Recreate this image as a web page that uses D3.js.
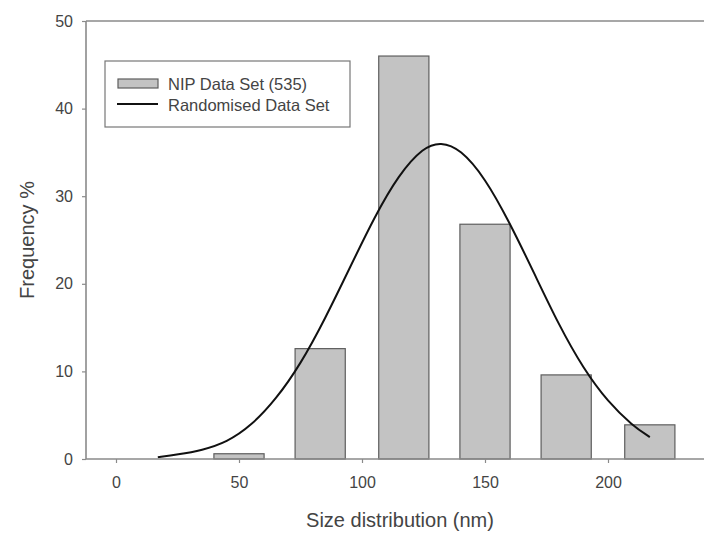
<!DOCTYPE html>
<html>
<head>
<meta charset="utf-8">
<script src="https://cdn.jsdelivr.net/npm/d3@7"></script>
<style>
  body { margin: 0; background: #fff; }
  text { font-family: "Liberation Sans", Arial, sans-serif; fill: #444; }
</style>
</head>
<body>
<div id="chart-area"></div>
<script>
// histogram bins (nm) and frequency %
var binCenters = [50, 83, 117, 150, 183, 217];
var binFreq = [0.6, 12.6, 46.0, 26.8, 9.6, 3.9];

// randomised data set curve
var curveX = [17, 25, 35, 45, 55, 65, 75, 85, 95, 105, 115, 125, 132, 140, 150, 160, 170, 180, 190, 200, 210, 217];
var curveY = [0.2, 0.5, 1.0, 1.9, 3.8, 6.8, 10.8, 16.0, 21.8, 27.6, 32.5, 35.6, 36.2, 35.4, 32.1, 27.0, 21.2, 15.3, 10.3, 6.5, 3.8, 2.5];

var xTicks = [0, 50, 100, 150, 200];
var yTicks = [0, 10, 20, 30, 40, 50];
var legendLabels = ["NIP Data Set (535)", "Randomised Data Set"];

var width = 704, height = 535;
var barW = 20.4; // nm

var svg = d3.select("#chart-area").append("svg")
  .attr("width", width)
  .attr("height", height);

var x = d3.scaleLinear().domain([0, 200]).range([116, 608]);
var y = d3.scaleLinear().domain([0, 50]).range([459, 21]);

var axisColor = "#8a8a8a";

// frame lines (right edge is cut off)
svg.append("line").attr("x1", 86).attr("x2", width).attr("y1", y(50)).attr("y2", y(50))
  .attr("stroke", axisColor).attr("stroke-width", 1.6);

// bars
svg.selectAll("rect.bar")
  .data(binCenters)
  .enter()
  .append("rect")
  .attr("class", "bar")
  .attr("x", (d) => { return x(d - barW / 2); })
  .attr("width", (d) => { return x(barW) - x(0); })
  .attr("y", (d, i) => { return y(binFreq[i]); })
  .attr("height", (d, i) => { return y(0) - y(binFreq[i]); })
  .attr("fill", "#c3c3c3")
  .attr("stroke", "#5e5e5e")
  .attr("stroke-width", 1.2);

// curve
var line = d3.line()
  .x((d) => { return x(d[0]); })
  .y((d) => { return y(d[1]); })
  .curve(d3.curveBasis);
svg.append("path")
  .datum(curveX.map((d, i) => { return [d, curveY[i]]; }))
  .attr("d", line)
  .attr("fill", "none")
  .attr("stroke", "#111")
  .attr("stroke-width", 2);

// axes
var xAxis = svg.append("g")
  .attr("transform", "translate(0," + y(0) + ")")
  .call(d3.axisBottom(x).tickValues(xTicks).tickSize(4).tickPadding(14));
xAxis.select(".domain").remove();
xAxis.selectAll(".tick line").attr("stroke", axisColor).attr("stroke-width", 1.2);
xAxis.selectAll("text").style("font-size", "16px").attr("fill", "#444");

var yAxis = svg.append("g")
  .attr("transform", "translate(86,0)")
  .call(d3.axisLeft(y).tickValues(yTicks).tickSize(4).tickPadding(9));
yAxis.select(".domain").remove();
yAxis.selectAll(".tick line").attr("stroke", axisColor).attr("stroke-width", 1.2);
yAxis.selectAll("text").style("font-size", "16px").attr("fill", "#444");

svg.append("line").attr("x1", 86).attr("x2", width).attr("y1", y(0)).attr("y2", y(0))
  .attr("stroke", axisColor).attr("stroke-width", 1.6);
svg.append("line").attr("x1", 86).attr("x2", 86).attr("y1", y(0)).attr("y2", y(50))
  .attr("stroke", axisColor).attr("stroke-width", 1.6);

// axis titles
svg.append("text")
  .attr("x", 400).attr("y", 527)
  .attr("text-anchor", "middle")
  .style("font-size", "20px")
  .text("Size distribution (nm)");
svg.append("text")
  .attr("transform", "translate(34,240) rotate(-90)")
  .attr("text-anchor", "middle")
  .style("font-size", "20px")
  .text("Frequency %");

// legend
var lg = svg.append("g");
lg.append("rect").attr("x", 105).attr("y", 61).attr("width", 245).attr("height", 66)
  .attr("fill", "#fff").attr("stroke", "#777").attr("stroke-width", 1.2);
lg.append("rect").attr("x", 118).attr("y", 79).attr("width", 40).attr("height", 9)
  .attr("fill", "#c3c3c3").attr("stroke", "#5e5e5e").attr("stroke-width", 1.2);
lg.append("line").attr("x1", 117).attr("x2", 158).attr("y1", 104).attr("y2", 104)
  .attr("stroke", "#111").attr("stroke-width", 2);
lg.selectAll("text.lab")
  .data(legendLabels)
  .enter()
  .append("text")
  .attr("class", "lab")
  .attr("x", 168)
  .attr("y", (d, i) => { return 90 + i * 21; })
  .style("font-size", "16.5px")
  .text((d) => { return d; });
</script>
</body>
</html>
